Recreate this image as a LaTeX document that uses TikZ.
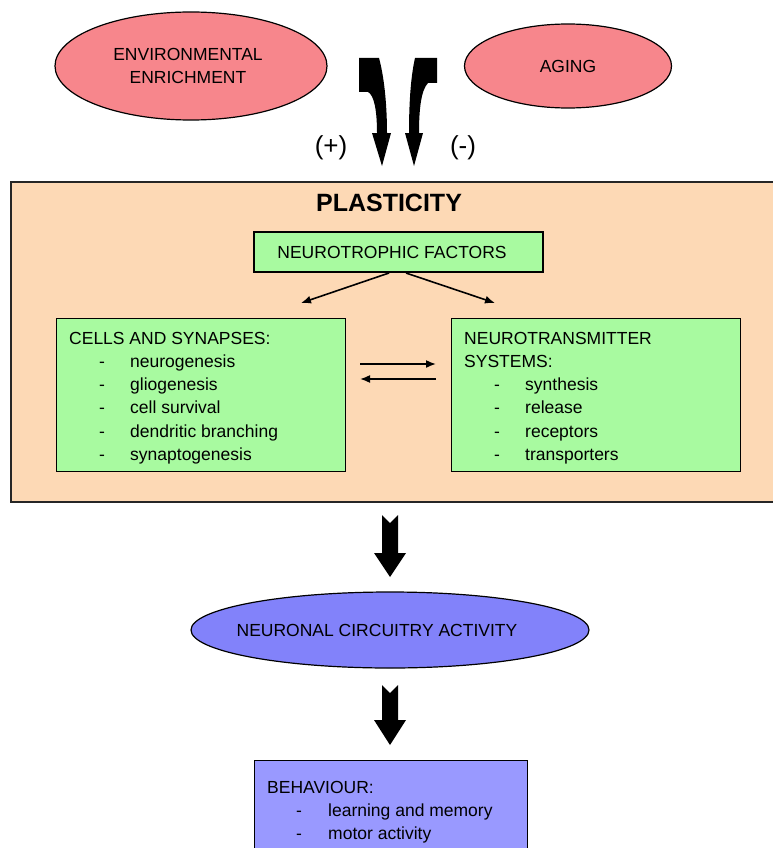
\documentclass[tikz,border=0pt]{standalone}
\usepackage{fontspec}
\setmainfont{Liberation Sans}
\usetikzlibrary{arrows.meta,shapes.geometric}
\definecolor{pinkell}{RGB}{247,134,140}
\definecolor{peach}{RGB}{253,217,181}
\definecolor{boxgreen}{RGB}{168,250,160}
\definecolor{ncablue}{RGB}{130,130,250}
\definecolor{behblue}{RGB}{153,153,255}
\begin{document}
\begin{tikzpicture}[x=1pt,y=-1pt,
  every node/.style={font=\fontsize{17.5}{23}\selectfont},
  ell/.style={ellipse,draw=black,line width=1.2pt,inner sep=0pt,align=center},
  gbox/.style={rectangle,draw=black,line width=1.2pt,fill=boxgreen,inner sep=0pt},
  txt/.style={anchor=base west,inner sep=0pt},
  dashitem/.style={anchor=base,inner sep=0pt},
  thinarrow/.style={line width=1.6pt,-{Latex[length=10pt,width=8pt]}},
  bigarrow/.style={fill=black,draw=none}
]
\useasboundingbox (0,0) rectangle (772,848);
\fill[white] (0,0) rectangle (772,848);

% top ellipses
\node[ell,fill=pinkell,minimum width=272pt,minimum height=108pt] (env) at (191,66) {};
\node[align=center,inner sep=0pt] (envtext) at (188,66) {ENVIRONMENTAL\\ENRICHMENT};
\node[ell,fill=pinkell,minimum width=207pt,minimum height=84pt] (aging) at (568,66) {AGING};

% curved arrows
\fill[bigarrow] (359,58) -- (379,58) .. controls (385,80) and (387,110) .. (387,133)
  -- (391,133) -- (382,166) -- (372,133) -- (377,133)
  .. controls (377,110) and (374,95) .. (368,92) -- (359,92) -- cycle;
\fill[bigarrow] (437,58) -- (415,58) .. controls (410,80) and (409,110) .. (409,133)
  -- (405,133) -- (414,166) -- (423,133) -- (419,133)
  .. controls (419,110) and (421,90) .. (428,83) -- (437,83) -- cycle;
\node[font=\fontsize{26}{30}\selectfont] (plus) at (331,148) {(+)};
\node[font=\fontsize{26}{30}\selectfont] (minus) at (463,148) {(-)};

% plasticity box
\node[rectangle,draw=black!85,line width=2.2pt,fill=peach,anchor=north west,
      minimum width=770pt,minimum height=320pt,inner sep=0pt] (plast) at (10,181) {};
\node[font=\fontsize{25}{30}\selectfont\bfseries] (ptitle) at (389,203) {PLASTICITY};

\node[gbox,minimum width=289pt,minimum height=40pt] (nf) at (398.5,252) {};
\node[inner sep=0pt] (nftext) at (392,252) {NEUROTROPHIC FACTORS};

\coordinate (nfl) at (389,273);
\coordinate (nfr) at (406,273);
\coordinate (cl) at (301,303);
\coordinate (cr) at (495,303);
\draw[thinarrow] (nfl) -- (cl);
\draw[thinarrow] (nfr) -- (cr);

\node[gbox,anchor=north west,minimum width=289pt,minimum height=153pt] (cells) at (56,318) {};
\node[gbox,anchor=north west,minimum width=289pt,minimum height=153pt] (nt) at (451,318) {};

\coordinate (r1a) at (360,364);
\coordinate (r1b) at (436,364);
\coordinate (r2a) at (436,379);
\coordinate (r2b) at (360,379);
\draw[thinarrow] (r1a) -- (r1b);
\draw[thinarrow] (r2a) -- (r2b);

% cells text
\node[txt] (chead) at (69,344) {CELLS AND SYNAPSES:};
\foreach \t [count=\i] in {neurogenesis,gliogenesis,cell survival,dendritic branching,synaptogenesis}{
  \node[dashitem] (cd\i) at (102,{344+23.3*\i}) {-};
  \node[txt] (ct\i) at (130,{344+23.3*\i}) {\t};
}
% NT text
\node[txt] (nthead1) at (464,344) {NEUROTRANSMITTER};
\node[txt] (nthead2) at (464,367.3) {SYSTEMS:};
\foreach \t [count=\i] in {synthesis,release,receptors,transporters}{
  \node[dashitem] (nd\i) at (497,{367.3+23.3*\i}) {-};
  \node[txt] (nt\i) at (525,{367.3+23.3*\i}) {\t};
}

% big arrow 1
\fill[bigarrow] (382,515) -- (390,523) -- (398,515) -- (398,553) -- (406,553)
  -- (390,577) -- (374,553) -- (382,553) -- cycle;

\node[ell,fill=ncablue,minimum width=398pt,minimum height=76pt] (nca) at (390,630) {};
\node[inner sep=0pt] (ncatext) at (377,630) {NEURONAL CIRCUITRY ACTIVITY};

% big arrow 2
\fill[bigarrow] (382,685) -- (390,693) -- (398,685) -- (398,720) -- (406,720)
  -- (390,745) -- (374,720) -- (382,720) -- cycle;

% behaviour box
\node[rectangle,draw=black,line width=1.2pt,fill=behblue,anchor=north west,
      minimum width=273pt,minimum height=110pt,inner sep=0pt] (beh) at (254,760) {};
\node[txt] (bhead) at (267,793) {BEHAVIOUR:};
\node[dashitem] (bd1) at (299,816) {-};
\node[txt] (bt1) at (328,816) {learning and memory};
\node[dashitem] (bd2) at (299,839) {-};
\node[txt] (bt2) at (328,839) {motor activity};
\end{tikzpicture}
\end{document}
